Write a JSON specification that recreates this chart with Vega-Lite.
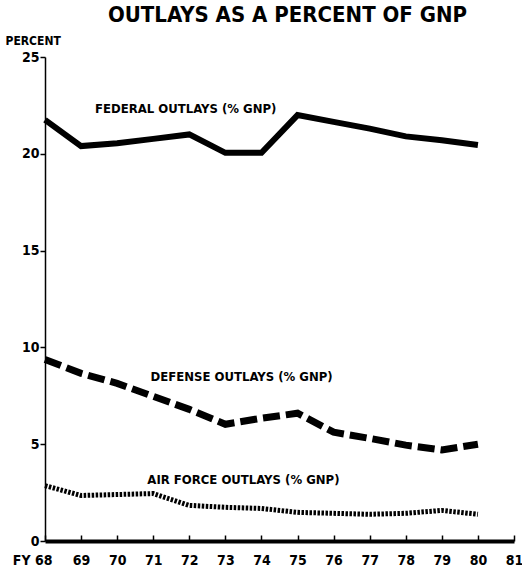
{
  "$schema": "https://vega.github.io/schema/vega-lite/v6.json",
  "width": 469,
  "height": 484,
  "autosize": {"type": "none"},
  "padding": {"left": 45, "top": 57, "right": 8, "bottom": 32},
  "background": "white",
  "config": {
    "view": {"stroke": null},
    "font": "DejaVu Sans Condensed, Liberation Sans Narrow, sans-serif"
  },
  "title": {
    "text": "OUTLAYS AS A PERCENT OF GNP",
    "fontSize": 22,
    "fontWeight": "bold",
    "font": "DejaVu Sans Condensed, Liberation Sans Narrow, sans-serif",
    "anchor": "middle",
    "dx": 8,
    "offset": 7,
    "color": "black"
  },
  "datasets": {
    "outlays": [
      {"year": 68, "series": "Federal", "value": 21.75},
      {"year": 69, "series": "Federal", "value": 20.4},
      {"year": 70, "series": "Federal", "value": 20.55},
      {"year": 71, "series": "Federal", "value": 20.77},
      {"year": 72, "series": "Federal", "value": 21.0},
      {"year": 73, "series": "Federal", "value": 20.05},
      {"year": 74, "series": "Federal", "value": 20.05},
      {"year": 75, "series": "Federal", "value": 22.0},
      {"year": 76, "series": "Federal", "value": 21.65},
      {"year": 77, "series": "Federal", "value": 21.3},
      {"year": 78, "series": "Federal", "value": 20.9},
      {"year": 79, "series": "Federal", "value": 20.7},
      {"year": 80, "series": "Federal", "value": 20.45},
      {"year": 68, "series": "Defense", "value": 9.38},
      {"year": 69, "series": "Defense", "value": 8.66},
      {"year": 70, "series": "Defense", "value": 8.14},
      {"year": 71, "series": "Defense", "value": 7.47},
      {"year": 72, "series": "Defense", "value": 6.8},
      {"year": 73, "series": "Defense", "value": 6.03},
      {"year": 74, "series": "Defense", "value": 6.34},
      {"year": 75, "series": "Defense", "value": 6.6},
      {"year": 76, "series": "Defense", "value": 5.62},
      {"year": 77, "series": "Defense", "value": 5.3},
      {"year": 78, "series": "Defense", "value": 4.95},
      {"year": 79, "series": "Defense", "value": 4.7},
      {"year": 80, "series": "Defense", "value": 5.0},
      {"year": 68, "series": "Air Force", "value": 2.86},
      {"year": 69, "series": "Air Force", "value": 2.35},
      {"year": 70, "series": "Air Force", "value": 2.4},
      {"year": 71, "series": "Air Force", "value": 2.45},
      {"year": 72, "series": "Air Force", "value": 1.84},
      {"year": 73, "series": "Air Force", "value": 1.74},
      {"year": 74, "series": "Air Force", "value": 1.68},
      {"year": 75, "series": "Air Force", "value": 1.48},
      {"year": 76, "series": "Air Force", "value": 1.43},
      {"year": 77, "series": "Air Force", "value": 1.38},
      {"year": 78, "series": "Air Force", "value": 1.43},
      {"year": 79, "series": "Air Force", "value": 1.58},
      {"year": 80, "series": "Air Force", "value": 1.38}
    ],
    "labels": [
      {"year": 71.9, "value": 22.3, "text": "FEDERAL OUTLAYS (% GNP)"},
      {"year": 73.45, "value": 8.45, "text": "DEFENSE OUTLAYS (% GNP)"},
      {"year": 73.5, "value": 3.16, "text": "AIR FORCE OUTLAYS (% GNP)"}
    ]
  },
  "encoding": {
    "x": {
      "field": "year",
      "type": "quantitative",
      "scale": {"domain": [68, 81], "nice": false, "zero": false},
      "axis": {
        "values": [68, 69, 70, 71, 72, 73, 74, 75, 76, 77, 78, 79, 80, 81],
        "labelExpr": "datum.value == 68 ? 'FY 68' : datum.label",
        "labelAlign": {"condition": {"test": "datum.value == 68", "value": "right"}, "value": "center"},
        "labelOffset": {"condition": {"test": "datum.value == 68", "value": 7}, "value": 0},
        "title": null,
        "grid": false,
        "domainColor": "black",
        "domainWidth": 4,
        "tickColor": "black",
        "tickWidth": 1.5,
        "tickSize": -6,
        "labelPadding": 18,
        "labelFontSize": 14,
        "labelFontWeight": "bold",
        "labelColor": "black",
        "labelFont": "DejaVu Sans Condensed, Liberation Sans Narrow, sans-serif"
      }
    },
    "y": {
      "field": "value",
      "type": "quantitative",
      "scale": {"domain": [0, 25], "nice": false},
      "axis": {
        "values": [0, 5, 10, 15, 20, 25],
        "title": "PERCENT",
        "titleAngle": 0,
        "titleAlign": "left",
        "titleBaseline": "bottom",
        "titleX": -40,
        "titleY": -10,
        "titleFontSize": 12,
        "titleFontWeight": "bold",
        "titleColor": "black",
        "titleFont": "DejaVu Sans Condensed, Liberation Sans Narrow, sans-serif",
        "grid": false,
        "domainColor": "black",
        "domainWidth": 1.5,
        "tickColor": "black",
        "tickWidth": 1.5,
        "tickSize": 5,
        "labelPadding": 1,
        "labelFontSize": 14,
        "labelFontWeight": "bold",
        "labelColor": "black",
        "labelFont": "DejaVu Sans Condensed, Liberation Sans Narrow, sans-serif"
      }
    }
  },
  "layer": [
    {
      "data": {"name": "outlays"},
      "transform": [{"filter": "datum.series == 'Federal'"}],
      "mark": {"type": "line", "color": "black", "strokeWidth": 6, "strokeJoin": "miter", "strokeCap": "butt"}
    },
    {
      "data": {"name": "outlays"},
      "transform": [{"filter": "datum.series == 'Defense'"}],
      "mark": {"type": "line", "color": "black", "strokeWidth": 7, "strokeDash": [17, 6], "strokeCap": "butt"}
    },
    {
      "data": {"name": "outlays"},
      "transform": [{"filter": "datum.series == 'Air Force'"}],
      "mark": {"type": "line", "color": "black", "strokeWidth": 5, "strokeDash": [2.5, 1.5], "strokeCap": "butt"}
    },
    {
      "data": {"name": "labels"},
      "mark": {"type": "text", "fontSize": 13, "fontWeight": "bold", "color": "black", "align": "center", "baseline": "middle", "font": "DejaVu Sans Condensed, Liberation Sans Narrow, sans-serif"},
      "encoding": {"text": {"field": "text"}}
    }
  ]
}
